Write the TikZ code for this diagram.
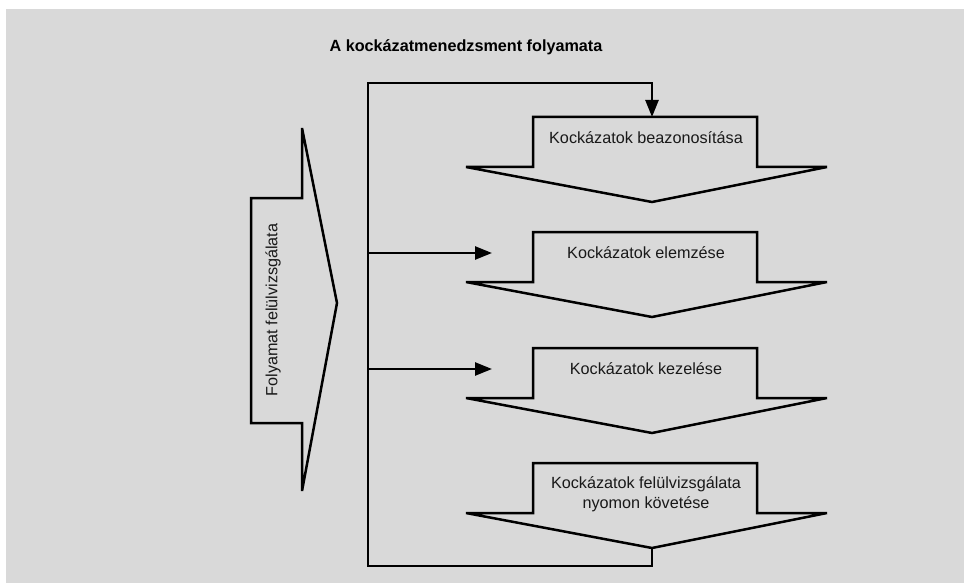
\documentclass[tikz,border=0pt]{standalone}
\usepackage{fontspec}
\setmainfont{Liberation Sans}
\usetikzlibrary{arrows.meta}
\definecolor{panel}{RGB}{217,217,217}
\begin{document}
\begin{tikzpicture}[x=1pt,y=-1pt,
  outline/.style={draw=black,line width=2.5pt},
  conn/.style={draw=black,line width=2.5pt},
  tip/.style={-{Triangle[length=17pt,width=13pt]}},
  label/.style={inner sep=0pt,font=\fontsize{16.2}{19.5}\selectfont,text=black!90},
  heading/.style={inner sep=0pt,font=\fontsize{16.2}{19.5}\selectfont\bfseries}]
\useasboundingbox (0,0) rectangle (964,583);
\fill[panel] (6,9) rectangle (964,583);

% heading
\node[heading] (title) at (466,47) {A kockázatmenedzsment folyamata};

% left review arrow
\draw[outline,line join=miter] (251,198) -- (302,198) -- (302,128) -- (337,303)
  -- (302,491) -- (302,423) -- (251,423) -- cycle;
\node[label,rotate=90] (review) at (273,310) {Folyamat felülvizsgálata};

% process steps: block with downward chevron
\newcommand\riskstep[2]{%
  \draw[outline,line join=miter] (533,#1) -- (757,#1) -- (757,#1+50) -- (827,#1+50)
    -- (652,#1+85) -- (466,#1+50) -- (533,#1+50) -- cycle;
  \coordinate (#2top) at (652,#1);
  \coordinate (#2tip) at (652,#1+85);
  \coordinate (#2in) at (492,#1+21);
}
\riskstep{117}{s1}
\riskstep{232}{s2}
\riskstep{348}{s3}
\riskstep{463}{s4}
\node[label] (t1) at (646,138) {Kockázatok beazonosítása};
\node[label] (t2) at (646,253) {Kockázatok elemzése};
\node[label] (t3) at (646,369) {Kockázatok kezelése};
\node[label,align=center] (t4) at (646,494) {Kockázatok felülvizsgálata\\nyomon követése};

% feedback loop
\coordinate (spineTop) at (368,83);
\coordinate (spineBot) at (368,566);
\draw[conn,tip] (s4tip) |- (spineBot) -- (spineTop) -| (s1top);
\draw[conn,tip] (spineTop |- s2in) -- (s2in);
\draw[conn,tip] (spineTop |- s3in) -- (s3in);
\end{tikzpicture}
\end{document}
